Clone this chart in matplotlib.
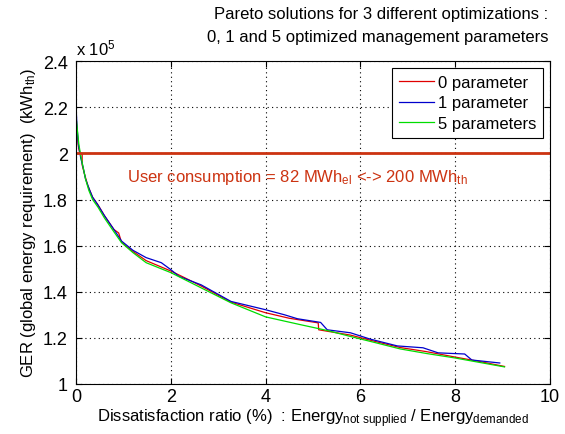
import matplotlib
matplotlib.use("Agg")
import matplotlib.pyplot as plt

plt.rcParams['font.family'] = ['Liberation Sans', 'DejaVu Sans']
plt.rcParams['mathtext.fontset'] = 'custom'
plt.rcParams['mathtext.rm'] = 'Liberation Sans'
plt.rcParams['mathtext.it'] = 'Liberation Sans:italic'

# 0 parameter (red)
x_p0 = [0.0, 0.02, 0.05, 0.08, 0.13, 0.13, 0.18, 0.25, 0.35, 0.47, 0.6, 0.8, 0.9, 0.96, 1.2, 1.48,
        2.0, 2.3, 2.64, 3.27, 4.0, 4.5, 5.11, 5.12, 5.5, 5.79, 6.3, 6.84, 7.4, 7.99, 8.5, 9.04]
y_p0 = [2.17, 2.10, 2.03, 2.00, 2.00, 1.95, 1.91, 1.86, 1.81, 1.775, 1.73, 1.67, 1.655, 1.615, 1.575, 1.535,
        1.49, 1.46, 1.425, 1.355, 1.309, 1.285, 1.265, 1.235, 1.222, 1.212, 1.185, 1.158, 1.14, 1.117, 1.098, 1.076]

# 1 parameter (blue)
x_p1 = [0.0, 0.02, 0.05, 0.1, 0.15, 0.2, 0.28, 0.35, 0.45, 0.6, 0.8, 0.96, 1.2, 1.48, 1.8, 2.0, 2.17,
        2.64, 3.27, 4.0, 4.4, 4.67, 5.16, 5.30, 5.79, 6.2, 6.78, 7.32, 7.64, 8.20, 8.35, 8.94]
y_p1 = [2.21, 2.12, 2.04, 1.98, 1.94, 1.89, 1.845, 1.81, 1.78, 1.73, 1.67, 1.62, 1.58, 1.548, 1.526, 1.496, 1.467,
        1.430, 1.358, 1.322, 1.300, 1.283, 1.267, 1.235, 1.222, 1.195, 1.165, 1.157, 1.135, 1.130, 1.104, 1.091]

# 5 parameters (green)
x_p5 = [0.0, 0.03, 0.06, 0.10, 0.15, 0.20, 0.27, 0.35, 0.47, 0.6, 0.8, 0.96, 1.2, 1.48, 2.0, 2.64,
        3.27, 4.0, 4.74, 5.3, 5.79, 6.3, 6.84, 7.4, 7.99, 8.5, 9.04]
y_p5 = [2.16, 2.10, 2.04, 1.99, 1.94, 1.89, 1.84, 1.80, 1.765, 1.72, 1.66, 1.613, 1.57, 1.526, 1.483, 1.417,
        1.352, 1.291, 1.257, 1.232, 1.206, 1.18, 1.152, 1.132, 1.113, 1.094, 1.074]

user_consumption = 2.0
x_ticks = [0, 2, 4, 6, 8, 10]
y_ticks = [1, 1.2, 1.4, 1.6, 1.8, 2, 2.2, 2.4]
y_tick_labels = ['1', '1.2', '1.4', '1.6', '1.8', '2', '2.2', '2.4']

fig = plt.figure(figsize=(5.65, 4.35), dpi=100)
ax = fig.add_axes([0.1345, 0.115, 0.839, 0.742])

ax.plot(x_p0, y_p0, color='#E00000', lw=0.9, label='0 parameter')
ax.plot(x_p1, y_p1, color='#0000CC', lw=0.9, label='1 parameter')
ax.plot(x_p5, y_p5, color='#00DD00', lw=0.9, label='5 parameters')
ax.axhline(user_consumption, color='#CC3311', lw=2)
ax.text(1.08, 1.9, 'User consumption = 82 MWh$_{\\mathrm{el}}$ <-> 200 MWh$_{\\mathrm{th}}$',
        color='#CC3311', fontsize=12, va='center', ha='left')

ax.set_xlim(0, 10)
ax.set_ylim(1, 2.4)
ax.set_xticks(x_ticks)
ax.set_yticks(y_ticks)
ax.set_yticklabels(y_tick_labels)
ax.tick_params(direction='in', top=True, right=True, labelsize=13, length=4)
ax.tick_params(axis='x', pad=3)
ax.tick_params(axis='y', pad=6)
ax.grid(True, color='black', linestyle=(0, (1, 3)), lw=0.8)

ax.set_xlabel('Dissatisfaction ratio (%)  : Energy$_{\\mathrm{not\\ supplied}}$ / Energy$_{\\mathrm{demanded}}$',
              fontsize=12, labelpad=1)
ax.set_ylabel('GER (global energy requirement)  (kWh$_{\\mathrm{th}}$)', fontsize=12, labelpad=3)

ax.text(0.0, 1.012, 'x 10$^{5}$', transform=ax.transAxes, fontsize=12, ha='left', va='bottom')

fig.text(0.97, 0.985, 'Pareto solutions for 3 different optimizations :', ha='right', va='top', fontsize=12)
fig.text(0.97, 0.932, '0, 1 and 5 optimized management parameters', ha='right', va='top', fontsize=12)

leg = ax.legend(loc='upper right', fancybox=False, edgecolor='black', fontsize=12,
                handlelength=2.1, handletextpad=0.25, borderpad=0.4, labelspacing=0.35, framealpha=1,
                borderaxespad=0.4)
leg.get_frame().set_linewidth(0.8)

fig.savefig('out.png', dpi=100)
